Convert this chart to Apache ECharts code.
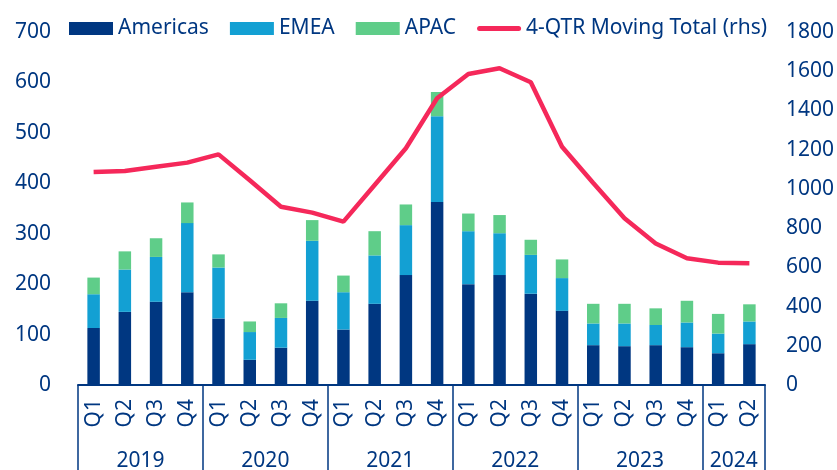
<!DOCTYPE html>
<html>
<head>
<meta charset="utf-8">
<script src="https://cdn.jsdelivr.net/npm/echarts@6/dist/echarts.min.js"></script>
<style>
  html, body { margin: 0; padding: 0; background: #fff; }
  #chart { width: 837px; height: 470px; }
</style>
</head>
<body>
<div id="chart"></div>
<script>
const quarters = ['Q1','Q2','Q3','Q4','Q1','Q2','Q3','Q4','Q1','Q2','Q3','Q4',
  'Q1','Q2','Q3','Q4','Q1','Q2','Q3','Q4','Q1','Q2']
const years = ['2019', '2020', '2021', '2022', '2023', '2024']
const yearCenters = [2, 6, 10, 14, 18, 21]
const yearBounds = [0, 4, 8, 12, 16, 20, 22]

const americas = [113, 145, 165, 184, 132, 50, 74, 167, 110, 161, 218, 363, 200, 218, 181, 147, 79, 77, 79, 75, 63, 81]
const emea = [67, 84, 89, 137, 101, 55, 59, 119, 74, 96, 99, 170, 105, 83, 77, 65, 43, 45, 40, 49, 39, 45]
const apac = [33, 36, 37, 41, 26, 21, 29, 41, 33, 48, 41, 48, 35, 36, 30, 37, 39, 39, 33, 43, 39, 34]
const movingTotal = [1086, 1091, 1113, 1134, 1176, 1044, 909, 879, 833, 1020, 1207, 1462, 1586, 1615, 1544, 1215, 1030, 850, 722, 646, 624, 621]

const navy = '#003781'
const lineRed = '#f5285a'
const font = 'Noto Sans'
const fs = 21

const chart = echarts.init(document.getElementById('chart'))

chart.setOption({
  animation: false,
  textStyle: { fontFamily: font, color: navy },
  legend: {
    left: 69,
    top: 18,
    padding: 0,
    itemWidth: 44,
    itemHeight: 13,
    itemGap: 21,
    textStyle: { fontFamily: font, fontSize: fs, color: navy },
    data: [
      { name: 'Americas', icon: 'rect' },
      { name: 'EMEA', icon: 'rect' },
      { name: 'APAC', icon: 'rect' },
      { name: '4-QTR Moving Total (rhs)', icon: 'path://M2.5,0 L41.5,0 A2.5,2.5 0 0 1 41.5,5 L2.5,5 A2.5,2.5 0 0 1 2.5,0 Z' }
    ]
  },
  grid: { left: 78, right: 72, top: 32, bottom: 85, outerBoundsMode: 'none' },
  xAxis: [
    {
      type: 'category',
      data: quarters,
      axisLine: { lineStyle: { color: navy, width: 2 } },
      axisTick: { show: false },
      axisLabel: { rotate: 90, fontSize: fs, color: navy, margin: 14, interval: 0 }
    },
    {
      type: 'value',
      min: 0,
      max: 22,
      position: 'bottom',
      offset: 0,
      splitLine: { show: false },
      axisLine: { show: false },
      axisTick: {
        show: true,
        customValues: yearBounds,
        length: 86,
        lineStyle: { color: navy, width: 1.5 }
      },
      axisLabel: {
        customValues: yearCenters,
        fontSize: fs,
        color: navy,
        margin: 66,
        formatter: (v) => years[yearCenters.indexOf(v)] || ''
      }
    }
  ],
  yAxis: [
    {
      type: 'value',
      min: 0,
      max: 700,
      interval: 100,
      splitLine: { show: false },
      axisLine: { show: false },
      axisTick: { show: false },
      axisLabel: { fontSize: fs, color: navy, margin: 27 }
    },
    {
      type: 'value',
      min: 0,
      max: 1800,
      interval: 200,
      splitLine: { show: false },
      axisLine: { show: false },
      axisTick: { show: false },
      axisLabel: { fontSize: fs, color: navy, margin: 21, formatter: (v) => String(v) }
    }
  ],
  series: [
    { name: 'Americas', type: 'bar', stack: 'total', data: americas, barWidth: '40%', itemStyle: { color: navy } },
    { name: 'EMEA', type: 'bar', stack: 'total', data: emea, itemStyle: { color: '#13a0d3' } },
    { name: 'APAC', type: 'bar', stack: 'total', data: apac, itemStyle: { color: '#5fcd89' } },
    {
      name: '4-QTR Moving Total (rhs)',
      type: 'line',
      yAxisIndex: 1,
      data: movingTotal,
      showSymbol: false,
      symbol: 'none',
      lineStyle: { color: lineRed, width: 4.5 },
      itemStyle: { color: lineRed }
    }
  ]
})
</script>
</body>
</html>
